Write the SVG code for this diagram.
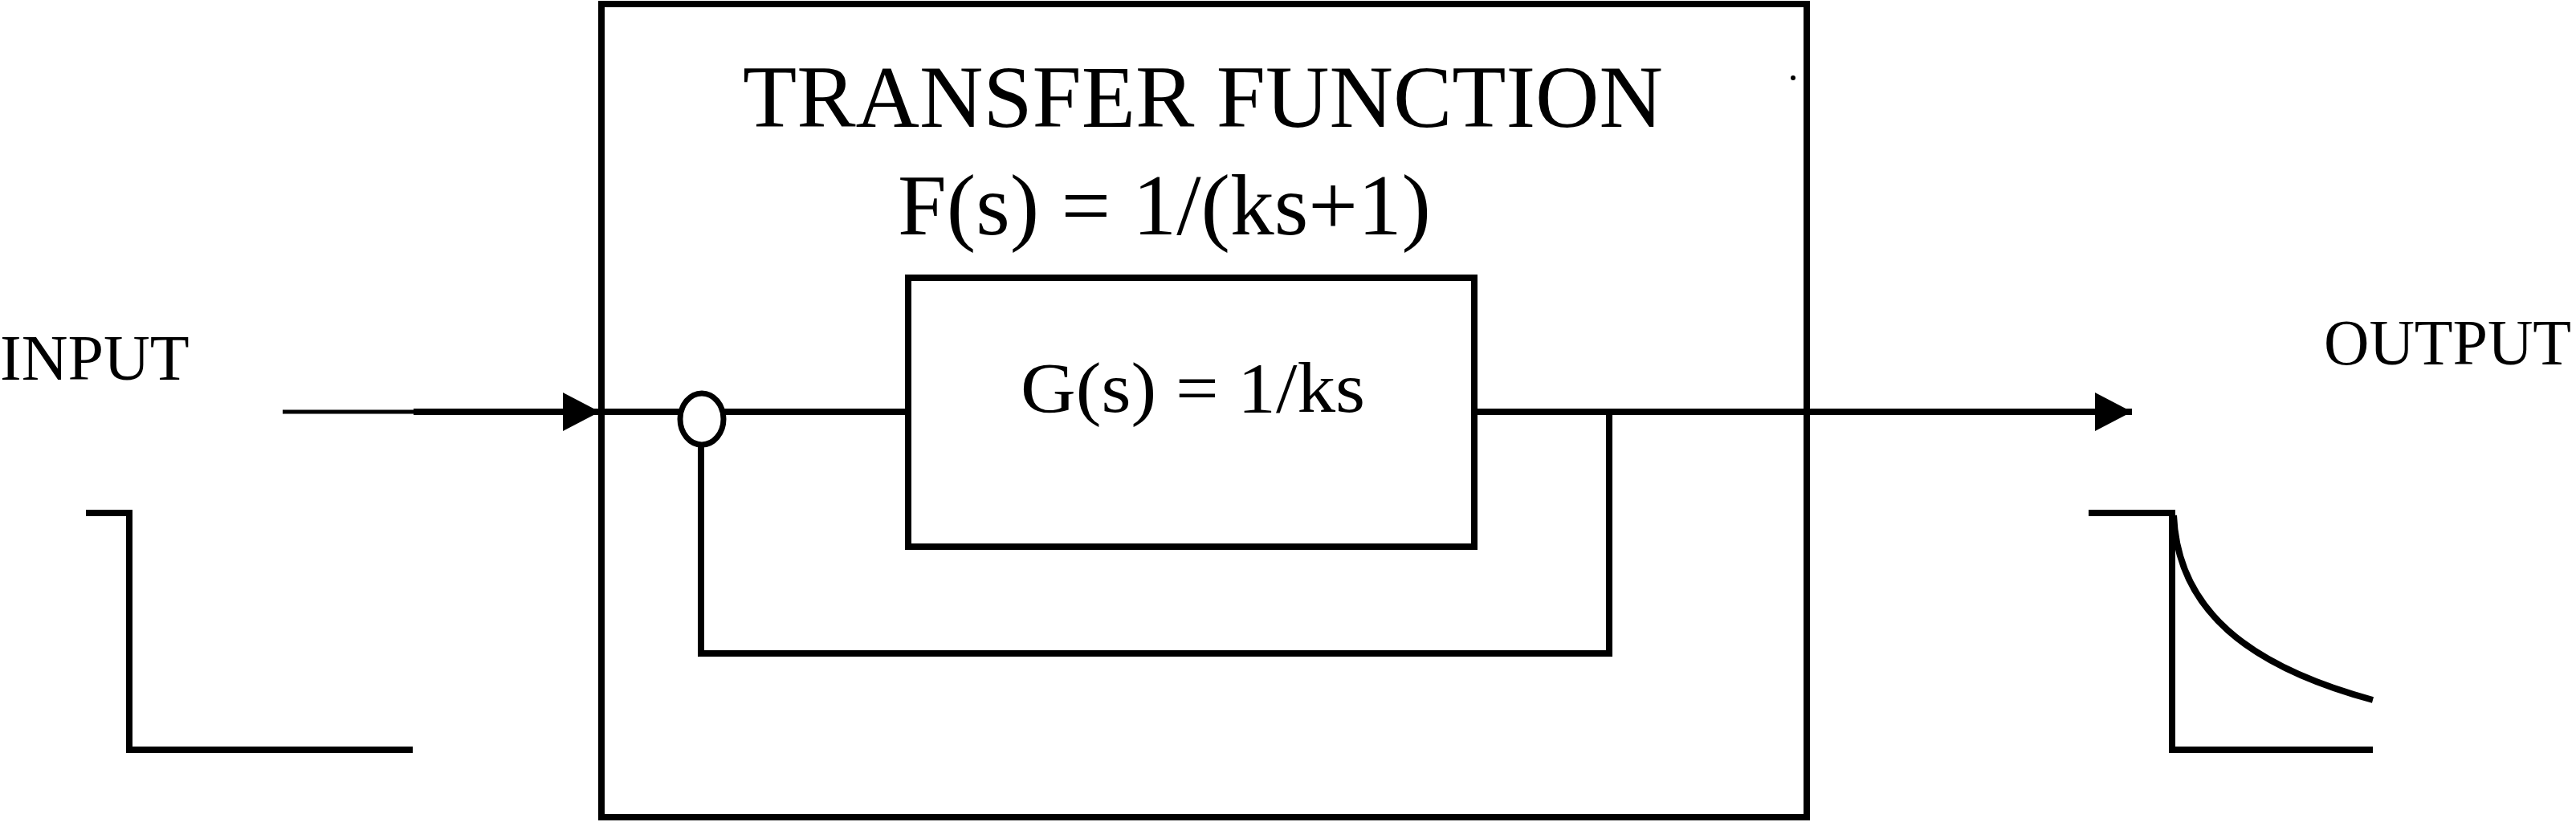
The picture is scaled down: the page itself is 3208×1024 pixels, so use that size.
<svg xmlns="http://www.w3.org/2000/svg" width="3208" height="1024" viewBox="0 0 3208 1024">
<style>
.t{font-family:"Liberation Serif","Times New Roman",serif;fill:#000}
.ln{fill:none;stroke:#000;stroke-width:8;stroke-linecap:butt;stroke-linejoin:miter}
.box{fill:none;stroke:#000;stroke-width:8}
</style>
<defs>
<marker id="arr" markerUnits="userSpaceOnUse" markerWidth="50" markerHeight="50" refX="46" refY="24" orient="auto">
<path d="M0 0 L46 24 L0 48 Z" fill="#000"/>
</marker>
</defs>
<rect width="3208" height="1024" fill="#fff"/>
<g id="outer-box">
<rect class="box" x="749" y="5" width="1501" height="1013" stroke-width="7"/>
<text class="t" x="1498" y="158" font-size="110" text-anchor="middle">TRANSFER FUNCTION</text>
<text class="t" x="1118" y="292" font-size="108" textLength="664" lengthAdjust="spacingAndGlyphs">F(s) = 1/(ks+1)</text>
<circle cx="2233" cy="97" r="3" fill="#000"/>
</g>
<g id="g-box">
<rect class="box" x="1131" y="346" width="705" height="335"/>
<text class="t" x="1271" y="513" font-size="88" textLength="429" lengthAdjust="spacingAndGlyphs">G(s) = 1/ks</text>
</g>
<g id="sum-junction">
<ellipse cx="874" cy="522" rx="27" ry="32" fill="#fff" stroke="#000" stroke-width="7"/>
</g>
<g id="input">
<text class="t" x="0" y="473" font-size="80">INPUT</text>
<path class="ln" d="M107 639 H161 V934 H514" stroke-width="9"/>
</g>
<g id="output">
<text class="t" x="2894" y="454" font-size="80" textLength="308" lengthAdjust="spacingAndGlyphs">OUTPUT</text>
<path class="ln" d="M2601 639 H2705 V934 H2955" stroke-width="8"/>
<path class="ln" d="M2707 642 C2712 760 2800 830 2955 872" stroke-width="7"/>
</g>
<g id="connectors">
<line x1="352" y1="513" x2="515" y2="513" stroke="#000" stroke-width="5"/>
<line class="ln" x1="515" y1="513" x2="747" y2="513" marker-end="url(#arr)"/>
<line class="ln" x1="747" y1="513" x2="848" y2="513"/>
<line class="ln" x1="900" y1="513" x2="1131" y2="513"/>
<path class="ln" d="M873 554 V814 H2004 V513" stroke-width="7"/>
<line class="ln" x1="1836" y1="513" x2="2655" y2="513" marker-end="url(#arr)"/>
</g>
</svg>
